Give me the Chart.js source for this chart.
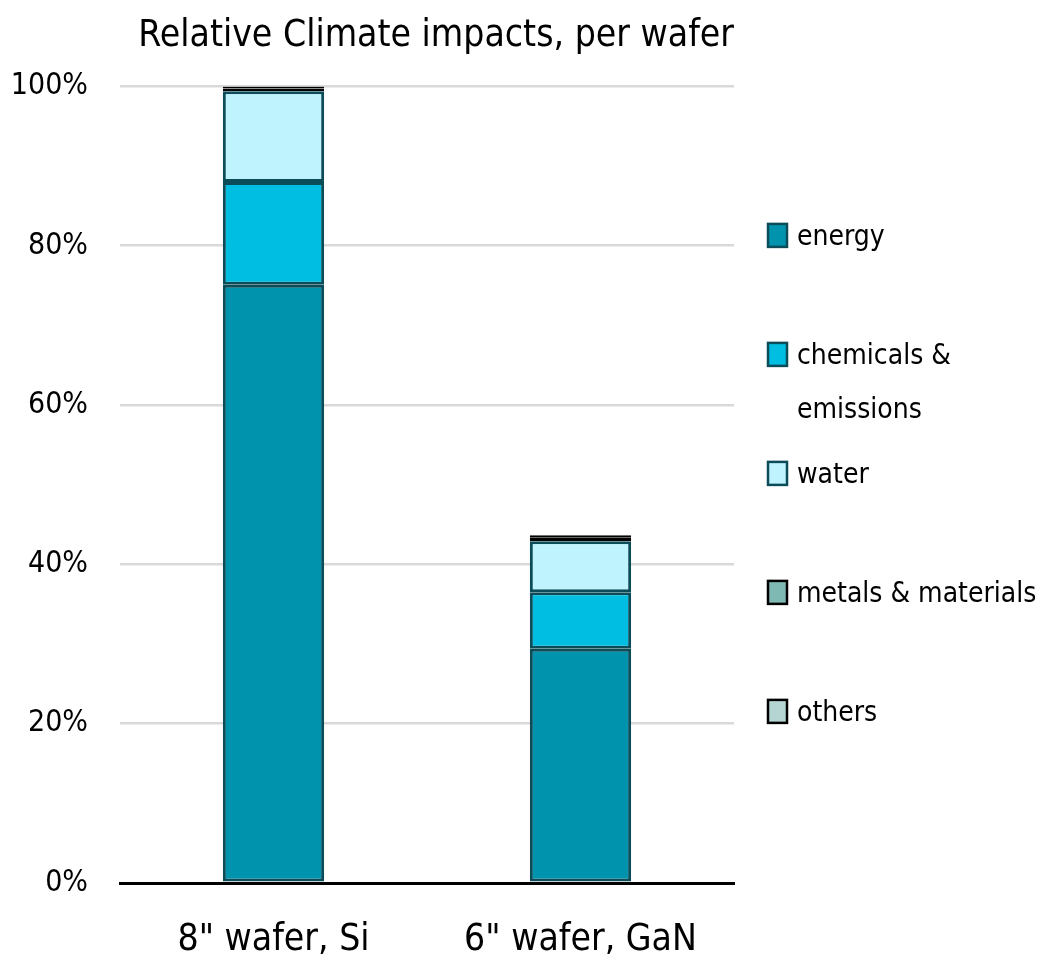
<!DOCTYPE html>
<html>
<head>
<meta charset="utf-8">
<script src="https://cdn.jsdelivr.net/npm/chart.js@4.4.1/dist/chart.umd.min.js"></script>
<style>
  html, body { margin: 0; padding: 0; background: #ffffff; }
  #wrap { width: 1058px; height: 963px; }
</style>
</head>
<body>
<div id="wrap"><canvas id="chart" width="1058" height="963"></canvas></div>
<script>
// Wafer types on the x axis
const categories = ['8" wafer, Si', '6" wafer, GaN'];

// Share of climate impact per contributor, in % of the Si wafer total
const energy    = [75.1, 29.4];
const chemicals = [12.9, 7.1];
const water     = [11.4, 6.4];
const metals    = [0.35, 0.45];
const others    = [0.25, 0.3];

const seriesNames = ['energy', 'chemicals &\nemissions', 'water', 'metals & materials', 'others'];
const yTicks = [0, 20, 40, 60, 80, 100];

const FONT = "'DejaVu Sans Condensed', 'DejaVu Sans', sans-serif";

const fills   = ['#0093ae', '#00bee2', '#bff4fe', '#7fb9b4', '#b5d5d3'];
const borders = ['#0b4c58', '#0b4c58', '#0b4c58', '#000000', '#000000'];
const values  = [energy, chemicals, water, metals, others];

const datasets = values.map((v, i) => ({
  label: seriesNames[i],
  data: v,
  backgroundColor: fills[i],
  borderColor: borders[i],
  borderWidth: 3,
  borderSkipped: false,
  barPercentage: 0.66,
  categoryPercentage: 0.5
}));

// Legend drawn on the right, one entry per series, with multi-line labels
const sideLegend = {
  id: 'sideLegend',
  afterDraw(chart) {
    const { ctx, chartArea } = chart;
    const boxX = 768, boxW = 19, boxH = 23, textX = 797;
    const firstY = chartArea.top + 149, step = 119, lineH = 54;
    ctx.save();
    ctx.font = "28px " + FONT;
    ctx.textBaseline = 'middle';
    ctx.textAlign = 'left';
    chart.data.datasets.forEach((ds, i) => {
      const cy = firstY + i * step;
      ctx.fillStyle = ds.backgroundColor;
      ctx.fillRect(boxX, cy - boxH / 2, boxW, boxH);
      ctx.lineWidth = 2.5;
      ctx.strokeStyle = ds.borderColor;
      ctx.strokeRect(boxX, cy - boxH / 2, boxW, boxH);
      ctx.fillStyle = '#000000';
      ds.label.split('\n').forEach((line, k) => {
        ctx.fillText(line, textX, cy + 2 + k * lineH);
      });
    });
    ctx.restore();
  }
};

new Chart(document.getElementById('chart'), {
  type: 'bar',
  data: { labels: categories, datasets },
  plugins: [sideLegend],
  options: {
    responsive: false,
    animation: false,
    layout: { padding: { left: 0, right: 324, top: 14, bottom: 0 } },
    plugins: {
      legend: { display: false },
      tooltip: { enabled: false },
      title: {
        display: true,
        text: 'Relative Climate impacts, per wafer',
        align: 'end',
        color: '#000000',
        font: { family: FONT, size: 37, weight: 'normal' },
        padding: { top: 0, bottom: 28 }
      }
    },
    scales: {
      x: {
        stacked: true,
        afterFit(scale) { scale.height = 80; },
        grid: { display: false, drawTicks: false },
        border: { display: true, color: '#000000', width: 3 },
        ticks: {
          color: '#000000',
          padding: 35,
          font: { family: FONT, size: 37 }
        }
      },
      y: {
        stacked: true,
        min: 0,
        max: 100,
        afterBuildTicks(scale) {
          scale.ticks = yTicks.map(v => ({ value: v }));
        },
        afterFit(scale) { scale.width = 120; },
        grid: {
          drawTicks: false,
          color: ctx => ctx.tick && ctx.tick.value === 0 ? '#000000' : '#d9d9d9',
          lineWidth: ctx => ctx.tick && ctx.tick.value === 0 ? 3 : 2.5
        },
        border: { display: false },
        ticks: {
          color: '#000000',
          padding: 32,
          font: { family: FONT, size: 30 },
          callback: v => v + '%'
        }
      }
    }
  }
});
</script>
</body>
</html>
